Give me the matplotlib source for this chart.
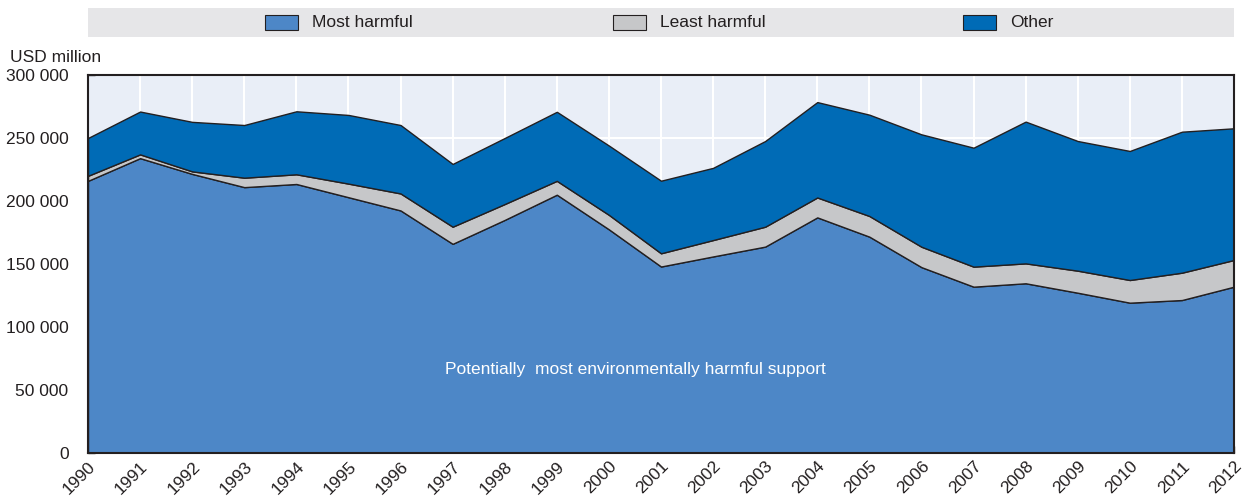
import matplotlib
matplotlib.use("Agg")
import matplotlib.pyplot as plt
from matplotlib.patches import Rectangle
from matplotlib.ticker import FuncFormatter
import numpy as np

years = list(range(1990, 2013))
most_harmful = [216000, 234000, 221500, 211000, 213500, 203000, 192500, 166000, 185000, 205000,
                177500, 148000, 156000, 163800, 187000, 171700, 147500, 132000, 134700, 127200,
                119300, 121400, 132000]
least_top = [220000, 237000, 223500, 218500, 221200, 213800, 206000, 179600, 197600, 216000,
             189000, 158500, 169000, 179600, 202800, 188100, 163700, 147900, 150500, 144700,
             137300, 143100, 153200]
total = [250000, 271000, 262800, 260300, 271200, 268300, 260300, 229400, 250000, 270800,
         244000, 216100, 226300, 247600, 278500, 268500, 252900, 242300, 263000, 247600,
         239700, 255000, 257700]

least_harmful = [a - b for a, b in zip(least_top, most_harmful)]
other = [a - b for a, b in zip(total, least_top)]

series_names = ["Most harmful", "Least harmful", "Other"]
colors = ["#4D87C7", "#C6C7C9", "#006BB6"]
edge = "#231F20"

plt.rcParams["font.family"] = ["Liberation Sans Narrow", "Liberation Sans", "DejaVu Sans"]
plt.rcParams["font.size"] = 12

fig = plt.figure(figsize=(12.45, 5.04), dpi=100)
W, H = 1245, 504
ax = fig.add_axes([88 / W, 1 - 453 / H, (1234 - 88) / W, (453 - 75) / H])
ax.set_facecolor("#E9EEF7")

x = np.array(years)
y = np.vstack([most_harmful, least_harmful, other])
ax.stackplot(x, y, colors=colors, edgecolor=edge, linewidth=1.0, zorder=3)

ax.set_xlim(1990, 2012)
ax.set_ylim(0, 300000)
ax.set_xticks(years)
ax.set_xticklabels([str(v) for v in years], rotation=45, ha="right",
                   rotation_mode="anchor", color="#231F20")
ax.set_yticks(range(0, 300001, 50000))
ax.yaxis.set_major_formatter(FuncFormatter(lambda v, p: f"{int(v):,}".replace(",", " ")))
ax.tick_params(axis="both", direction="in", length=5, width=1, color="#333333",
               labelcolor="#231F20", labelsize=12.5)
ax.tick_params(axis="x", pad=4)
ax.tick_params(axis="y", pad=14)
ax.grid(True, color="white", linewidth=1.5, zorder=1)
ax.set_axisbelow(True)
for s in ax.spines.values():
    s.set_color("#231F20")
    s.set_linewidth(1.5)
    s.set_zorder(5)

ax.text(2000.5, 66500, "Potentially  most environmentally harmful support",
        color="white", ha="center", va="center", fontsize=12.5, zorder=6)

fig.text(10 / W, 1 - 57 / H, "USD million", ha="left", va="center",
         fontsize=12.5, color="#231F20")

# legend band, drawn by hand to match the spacing
fig.patches.append(Rectangle((88 / W, 1 - 37 / H), (1234 - 88) / W, 29 / H,
                             transform=fig.transFigure, facecolor="#E6E6E8",
                             edgecolor="none", zorder=0))
leg_x = [265, 613, 963]
for lx, name, c in zip(leg_x, series_names, colors):
    fig.patches.append(Rectangle((lx / W, 1 - 30 / H), 33 / W, 15 / H,
                                 transform=fig.transFigure, facecolor=c,
                                 edgecolor=edge, linewidth=0.8, zorder=1))
    fig.text((lx + 47) / W, 1 - 22.5 / H, name, ha="left", va="center",
             fontsize=12.5, color="#231F20")

fig.savefig("out.png", dpi=100)
